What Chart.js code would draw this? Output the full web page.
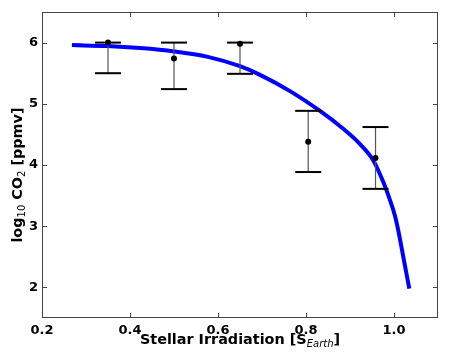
<!DOCTYPE html>
<html>
<head>
<meta charset="utf-8">
<script src="https://cdn.jsdelivr.net/npm/chart.js@4.4.1/dist/chart.umd.min.js"></script>
<style>
  html, body { margin: 0; padding: 0; background: #fff; }
  #wrap { width: 450px; height: 362px; }
</style>
</head>
<body>
<div id="wrap"><canvas id="chart" width="450" height="362"></canvas></div>
<script>
// model curve
const curveX = [0.268, 0.348, 0.423, 0.50, 0.577, 0.65, 0.6955, 0.7636, 0.8318, 0.8811, 0.9227, 0.953, 0.9757, 0.9909, 1.0023, 1.0098, 1.025, 1.0348]
const curveY = [5.959, 5.943, 5.91, 5.856, 5.767, 5.614, 5.473, 5.207, 4.883, 4.612, 4.342, 4.075, 3.721, 3.425, 3.168, 2.929, 2.351, 1.979]

// observations with error bars
const obsX = [0.35, 0.50, 0.65, 0.805, 0.958]
const obsY = [6.0, 5.74, 5.98, 4.38, 4.115]
const errLow = [5.5, 5.24, 5.49, 3.885, 3.61]
const errHigh = [6.0, 6.0, 6.0, 4.885, 4.62]

const xTicks = [0.2, 0.4, 0.6, 0.8, 1.0]
const yTicks = [2, 3, 4, 5, 6]

const FONT = 'DejaVu Sans'

const curve = curveX.map((x, i) => ({ x: x, y: curveY[i] }))
const points = obsX.map((x, i) => ({ x: x, y: obsY[i] }))
const caps = obsX.map((x, i) => ({ x: x, y: errLow[i] }))
  .concat(obsX.map((x, i) => ({ x: x, y: errHigh[i] })))
const stems = []
obsX.forEach((x, i) => {
  stems.push({ x: x, y: errLow[i] }, { x: x, y: errHigh[i] }, { x: x, y: null })
})

// frame + inward ticks on all four sides, like matplotlib
const framePlugin = {
  id: 'frame',
  afterDraw (chart) {
    const { ctx, chartArea: a, scales } = chart
    const len = 5
    ctx.save()
    ctx.strokeStyle = '#444'
    ctx.lineWidth = 1
    ctx.strokeRect(a.left + 0.5, a.top + 0.5, a.right - a.left - 1, a.bottom - a.top - 1)
    ctx.beginPath()
    xTicks.forEach((v) => {
      const px = Math.round(scales.x.getPixelForValue(v)) + 0.5
      ctx.moveTo(px, a.bottom); ctx.lineTo(px, a.bottom - len)
      ctx.moveTo(px, a.top); ctx.lineTo(px, a.top + len)
    })
    yTicks.forEach((v) => {
      const py = Math.round(scales.y.getPixelForValue(v)) + 0.5
      ctx.moveTo(a.left, py); ctx.lineTo(a.left + len, py)
      ctx.moveTo(a.right, py); ctx.lineTo(a.right - len, py)
    })
    ctx.stroke()
    ctx.restore()
  }
}

// axis titles with sub-scripts
function drawPieces (ctx, pieces, cx, baseline) {
  let w = 0
  pieces.forEach((p) => { ctx.font = p.f; w += ctx.measureText(p.t).width })
  let x = cx - w / 2
  pieces.forEach((p) => {
    ctx.font = p.f
    ctx.fillText(p.t, x, baseline + (p.dy || 0))
    x += ctx.measureText(p.t).width
  })
}

const titlePlugin = {
  id: 'titles',
  afterDraw (chart) {
    const { ctx, chartArea: a } = chart
    const bold = 'bold 14.4px ' + FONT
    ctx.save()
    ctx.fillStyle = '#000'
    ctx.textBaseline = 'alphabetic'
    ctx.textAlign = 'left'
    drawPieces(ctx, [
      { t: 'Stellar Irradiation [S', f: bold },
      { t: 'Earth', f: 'italic 10px ' + FONT, dy: 3 },
      { t: ']', f: bold }
    ], (a.left + a.right) / 2, 344)
    ctx.translate(22, 175)
    ctx.rotate(-Math.PI / 2)
    drawPieces(ctx, [
      { t: 'log', f: bold },
      { t: '10', f: '10px ' + FONT, dy: 3 },
      { t: ' CO', f: bold },
      { t: '2', f: '10px ' + FONT, dy: 3 },
      { t: ' [ppmv]', f: bold }
    ], 0, 0)
    ctx.restore()
  }
}

function noPad (s) {
  s.paddingLeft = 0; s.paddingRight = 0; s.paddingTop = 0; s.paddingBottom = 0
}

new Chart(document.getElementById('chart'), {
  type: 'line',
  data: {
    datasets: [
      {
        data: curve,
        borderColor: '#0000ff',
        borderWidth: 4,
        pointRadius: 0,
        cubicInterpolationMode: 'monotone',
        borderCapStyle: 'butt',
        order: 3
      },
      {
        data: stems,
        borderColor: '#555',
        borderWidth: 1.2,
        pointRadius: 0,
        spanGaps: false,
        order: 2
      },
      {
        type: 'scatter',
        data: caps,
        pointStyle: 'line',
        pointRadius: 13,
        borderColor: '#000',
        borderWidth: 2,
        order: 1
      },
      {
        type: 'scatter',
        data: points,
        pointRadius: 3,
        backgroundColor: '#000',
        borderColor: '#000',
        borderWidth: 0,
        order: 0
      }
    ]
  },
  options: {
    responsive: false,
    animation: false,
    layout: { autoPadding: false, padding: { top: 12, right: 12, left: 0, bottom: 0 } },
    plugins: { legend: { display: false }, tooltip: { enabled: false } },
    scales: {
      x: {
        type: 'linear',
        min: 0.2,
        max: 1.1,
        grid: { display: false, drawTicks: false },
        border: { display: false },
        afterBuildTicks: (s) => { s.ticks = xTicks.map((v) => ({ value: v })) },
        afterFit: (s) => { s.height = 44; noPad(s) },
        ticks: {
          color: '#000',
          padding: 5,
          font: { family: FONT, size: 13, weight: 'bold' },
          callback: (v) => v.toFixed(1)
        }
      },
      y: {
        type: 'linear',
        min: 1.5,
        max: 6.5,
        grid: { display: false, drawTicks: false },
        border: { display: false },
        afterBuildTicks: (s) => { s.ticks = yTicks.map((v) => ({ value: v })) },
        afterFit: (s) => { s.width = 42; noPad(s) },
        ticks: {
          color: '#000',
          padding: 4,
          font: { family: FONT, size: 13, weight: 'bold' }
        }
      }
    }
  },
  plugins: [framePlugin, titlePlugin]
})
</script>
</body>
</html>
